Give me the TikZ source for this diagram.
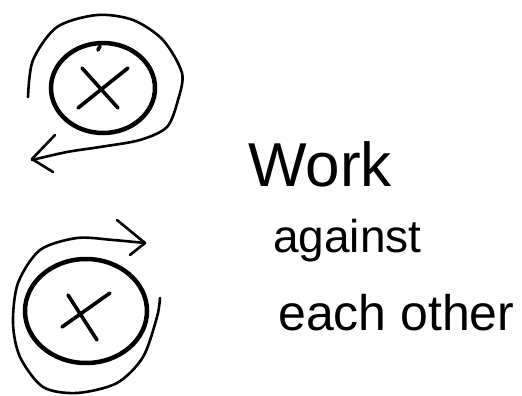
\documentclass[tikz,border=0pt]{standalone}
\usepackage{fontspec}
\setsansfont{Liberation Sans}
\usetikzlibrary{positioning}
\newcommand{\ringA}{(103,88) ellipse (52 and 45)}
\newcommand{\ringB}{(86,311) ellipse (61 and 52)}
\tikzset{
  ring/.style={line width=4.5pt},
  loop/.style={line width=2.6pt, line cap=round, line join=round},
  cross/.style={line width=3.6pt, line cap=round},
  word/.style={font=\sffamily\fontsize{46}{46}\selectfont, inner sep=0pt, anchor=base west}
}

\begin{document}
\begin{tikzpicture}[x=1pt,y=-1pt]
\useasboundingbox (0,0) rectangle (522,396);
% top: arrow runs round one way
\draw[ring] \ringA;
\draw[cross] (98,50) -- (100,46);
\draw[cross] (82,68) -- (118,108) (128,68) -- (78,108);
\draw[loop] plot[smooth] coordinates {(28,97) (33,60) (57,27) (97,15) (133,20) (163,40) (182,73) (178,100) (167,127) (140,140) (100,147) (67,152) (32,160)};
\draw[loop] (55,135) -- (32,159) -- (53,172);
% bottom: arrow runs round the other way
\draw[ring] \ringB;
\draw[cross] (68,295) -- (97,340) (110,293) -- (62,327);
\draw[loop] plot[smooth] coordinates {(160,298) (157,317) (143,357) (117,383) (77,393) (43,387) (20,357) (13,323) (18,283) (40,250) (77,238) (113,240) (145,243)};
\draw[loop] (117,220) -- (145,243) -- (130,255);
% label
\node[word, font=\sffamily\fontsize{62}{62}\selectfont] (work) at (248,186) {Work};
\node[word] (against) at (273,252) {against};
\node[word, font=\sffamily\fontsize{50}{50}\selectfont] (each) at (278,330) {each other};
\end{tikzpicture}
\end{document}
